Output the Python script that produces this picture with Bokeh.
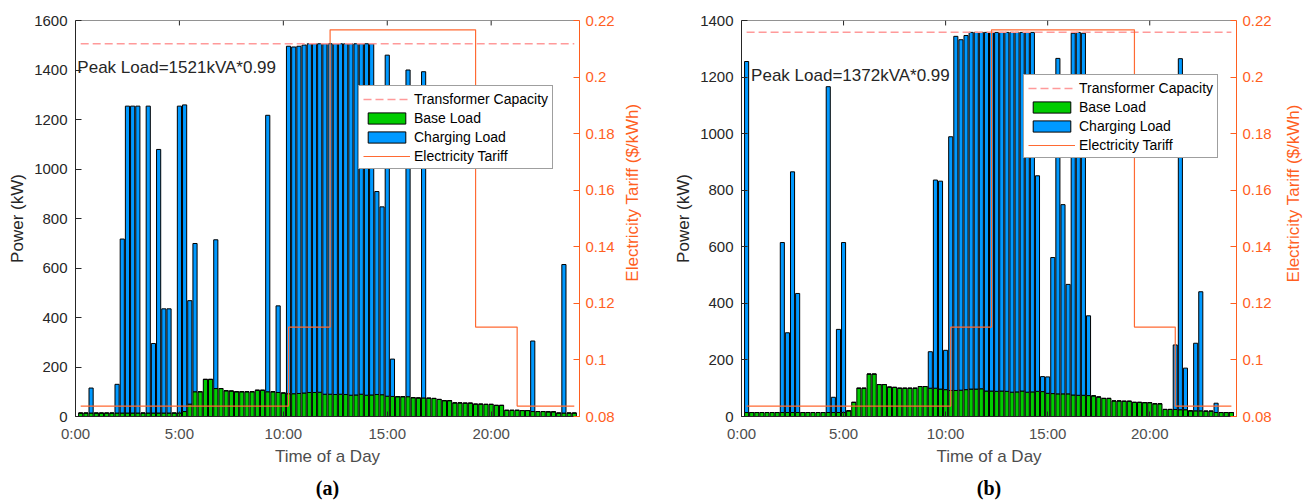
import math
import numpy as np
from bokeh.plotting import figure
from bokeh.models import (Range1d, LinearAxis, FixedTicker, CustomJSTickFormatter,
                          Legend, LegendItem, Title, ColumnDataSource)
from bokeh.layouts import row
from bokeh.embed import file_html
from bokeh.resources import INLINE
from bokeh.core.properties import value

# ---------------- data ----------------
# 96 quarter-hour slots (hours), bar centres
time_slots = [0.25 * k for k in range(1, 97)]

base_load = [14, 14, 14, 14, 14, 14, 14, 14, 14, 14,
             14, 14, 14, 14, 14, 14, 14, 14, 14, 14,
             20, 50, 100, 100, 150, 150, 113, 113, 104, 103,
             100, 100, 100, 100, 106, 106, 100, 100, 97, 95,
             92, 92, 93, 95, 97, 97, 98, 90, 90, 89,
             90, 89, 86, 87, 90, 86, 87, 89, 88, 82,
             81, 80, 80, 80, 76, 75, 75, 74, 73, 69,
             64, 64, 55, 55, 54, 54, 50, 50, 49, 49,
             45, 45, 25, 25, 25, 24, 24, 20, 20, 20,
             19, 19, 14, 14, 14, 14]

charging_a = [0, 0, 101, 0, 0, 0, 0, 116, 703, 1240,
              1240, 1240, 0, 1240, 281, 1065, 421, 421, 0, 1240,
              1239, 418, 599, 0, 0, 0, 601, 0, 0, 0,
              0, 0, 0, 0, 0, 0, 1117, 0, 350, 0,
              1404, 1401, 1403, 1406, 1409, 1409, 1408, 1416, 1416, 1417,
              1416, 1417, 1420, 1419, 1416, 1420, 1419, 820, 759, 1378,
              151, 0, 0, 1320, 0, 0, 1318, 0, 0, 0,
              0, 0, 0, 0, 0, 0, 0, 0, 0, 0,
              0, 0, 0, 0, 0, 0, 0, 285, 0, 0,
              0, 0, 0, 600, 0, 0]

charging_b = [1241, 0, 0, 0, 0, 0, 0, 601, 282, 851,
              421, 0, 0, 0, 0, 0, 1152, 54, 294, 601,
              0, 0, 0, 0, 0, 0, 0, 0, 0, 0,
              0, 0, 0, 0, 0, 0, 129, 736, 735, 139,
              897, 1252, 1239, 1252, 1261, 1261, 1260, 1268, 1268, 1269,
              1268, 1269, 1272, 1271, 1268, 1272, 1271, 762, 53, 58,
              481, 1186, 669, 387, 1279, 1283, 1280, 282, 0, 0,
              0, 0, 0, 0, 0, 0, 0, 0, 0, 0,
              0, 0, 0, 0, 228, 1241, 147, 0, 239, 421,
              0, 0, 33, 0, 0, 0]

tariff_times = [0.25, 10.25, 12.25, 19.25, 21.25, 24.0]
tariff_values = [0.0837, 0.1116, 0.2167, 0.1116, 0.0837, 0.0837]

cap_span = [0.25, 24.0]
peak_a = 1521
peak_b = 1372
power_factor = 0.99

x_ticks = [0, 5, 10, 15, 20]
x_tick_labels = ["0:00", "5:00", "10:00", "15:00", "20:00"]
y_ticks_a = [0, 200, 400, 600, 800, 1000, 1200, 1400, 1600]
y_ticks_b = [0, 200, 400, 600, 800, 1000, 1200, 1400]
tariff_ticks = [0.08, 0.10, 0.12, 0.14, 0.16, 0.18, 0.20, 0.22]
tariff_title = "Electricity Tariff ($/kWh)"

# ---------------- style ----------------
GREEN = "#00CC00"
BLUE = "#0099FF"
TARIFF = "#FF6A33"
AXIS_ORANGE = "#FF5F1F"
CAP = "#FF9A9A"
DARK = "#262626"
XGRAY = "#4D4D4D"
FONT = "Liberation Sans"


def make_panel(charging, peak, ymax, y_ticks, fig_w, borders, sub_label,
               legend_xy, peak_xy):
    left, right, top, bottom = borders
    p = figure(width=fig_w, height=504, output_backend="svg", toolbar_location=None,
               x_range=Range1d(0, 24.25), y_range=Range1d(0, ymax),
               min_border_left=left, min_border_right=right,
               min_border_top=top, min_border_bottom=bottom)
    p.outline_line_color = None
    p.xgrid.visible = False
    p.ygrid.visible = False
    p.background_fill_color = "white"
    p.border_fill_color = "white"

    # bottom axis
    xa = p.xaxis[0]
    xa.ticker = FixedTicker(ticks=x_ticks)
    xa.major_label_overrides = {t: l for t, l in zip(x_ticks, x_tick_labels)}
    xa.major_tick_in = 5
    xa.major_tick_out = 0
    xa.minor_tick_line_color = None
    xa.axis_line_color = DARK
    xa.major_tick_line_color = DARK
    xa.major_label_text_font = FONT
    xa.major_label_text_font_size = "15px"
    xa.major_label_text_color = XGRAY
    xa.major_label_standoff = 8
    xa.axis_label = "Time of a Day"
    xa.axis_label_text_font = FONT
    xa.axis_label_text_font_size = "17px"
    xa.axis_label_text_font_style = "normal"
    xa.axis_label_text_color = XGRAY
    xa.axis_label_standoff = 2

    # left axis
    ya = p.yaxis[0]
    ya.ticker = FixedTicker(ticks=y_ticks)
    ya.major_tick_in = 6
    ya.major_tick_out = 0
    ya.minor_tick_line_color = None
    ya.axis_line_color = DARK
    ya.major_tick_line_color = DARK
    ya.major_label_text_font = FONT
    ya.major_label_text_font_size = "15px"
    ya.major_label_text_color = DARK
    ya.major_label_standoff = 8
    ya.axis_label = "Power (kW)"
    ya.axis_label_text_font = FONT
    ya.axis_label_text_font_size = "17px"
    ya.axis_label_text_font_style = "normal"
    ya.axis_label_text_color = DARK
    ya.axis_label_standoff = 4

    # right axis (tariff)
    p.extra_y_ranges = {"tariff": Range1d(0.08, 0.22)}
    ra = LinearAxis(y_range_name="tariff", ticker=FixedTicker(ticks=tariff_ticks),
                    formatter=CustomJSTickFormatter(code="return String(parseFloat(tick.toFixed(2)));"),
                    major_tick_in=6, major_tick_out=0, minor_tick_line_color=None,
                    axis_line_color=AXIS_ORANGE, major_tick_line_color=AXIS_ORANGE,
                    major_label_text_color=AXIS_ORANGE, major_label_text_font=FONT,
                    major_label_text_font_size="15px", major_label_standoff=6)
    p.add_layout(ra, "right")

    # top frame line with inward ticks at the x ticks
    tick_len = 5.0 * ymax / 400.0
    p.line(x=[0, 24.25], y=[ymax, ymax], line_color=DARK, line_width=1)
    p.segment(x0=x_ticks, x1=x_ticks, y0=[ymax] * len(x_ticks),
              y1=[ymax - tick_len] * len(x_ticks), line_color=DARK, line_width=1)

    src = ColumnDataSource(dict(x=time_slots, base=base_load, charging=charging))
    stack = p.vbar_stack(["base", "charging"], x="x", width=0.2, source=src,
                         fill_color=[GREEN, BLUE], line_color="black", line_width=1)

    cap = peak * power_factor
    cap_r = p.line(x=cap_span, y=[cap, cap], line_color=CAP, line_width=1.6,
                   line_dash="8 4")

    tar_r = p.step(x=tariff_times, y=tariff_values, mode="after", y_range_name="tariff",
                   line_color=TARIFF, line_width=1.2)

    p.text(x=[peak_xy[0]], y=[peak_xy[1]], text=[f"Peak Load={peak}kVA*0.99"],
           text_font=value(FONT), text_font_size="17px", text_color=DARK,
           text_baseline="alphabetic", text_align="left")

    legend = Legend(items=[
        LegendItem(label="Transformer Capacity", renderers=[cap_r]),
        LegendItem(label="Base Load", renderers=[stack[0]]),
        LegendItem(label="Charging Load", renderers=[stack[1]]),
        LegendItem(label="Electricity Tariff", renderers=[tar_r]),
    ], location=legend_xy)
    legend.label_text_font = FONT
    legend.label_text_font_size = "14px"
    legend.label_text_color = "black"
    legend.glyph_width = 47
    legend.glyph_height = 14
    legend.label_height = 17
    legend.label_standoff = 4
    legend.spacing = 2
    legend.padding = 4
    legend.margin = 0
    legend.border_line_color = "#404040"
    legend.border_line_width = 1
    legend.background_fill_color = "white"
    legend.background_fill_alpha = 1
    p.add_layout(legend)

    t = Title(text=sub_label, align="center", text_font="Liberation Serif",
              text_font_style="bold", text_font_size="20px", text_color="black",
              standoff=12)
    p.add_layout(t, "below")
    return p


def make_side_title(fig_w, pos):
    # narrow strip carrying the right-axis title, reading bottom-to-top
    s = figure(width=fig_w, height=504, output_backend="svg", toolbar_location=None,
               x_range=Range1d(0, fig_w), y_range=Range1d(0, 504),
               x_axis_type=None, y_axis_type=None,
               min_border_left=0, min_border_right=0, min_border_top=0, min_border_bottom=0)
    s.outline_line_color = None
    s.xgrid.visible = False
    s.ygrid.visible = False
    s.background_fill_color = "white"
    s.border_fill_color = "white"
    s.text(x=[pos[0]], y=[pos[1]], text=[tariff_title], angle=math.pi / 2,
           text_font=value(FONT), text_font_size="17px", text_color=AXIS_ORANGE,
           text_align="center", text_baseline="middle")
    return s


pa = make_panel(charging_a, peak_a, 1600, y_ticks_a, 620, (75, 41, 18, 84), "(a)",
                (283, 247), (0.09, 1409))
sa = make_side_title(40, (12, 285))
pb = make_panel(charging_b, peak_b, 1400, y_ticks_b, 614, (81, 36, 20, 87), "(b)",
                (282, 258), (0.47, 1205))
sb = make_side_title(37, (19, 284))

layout = row(pa, sa, pb, sb)
open("out.html", "w").write(file_html(layout, INLINE))
